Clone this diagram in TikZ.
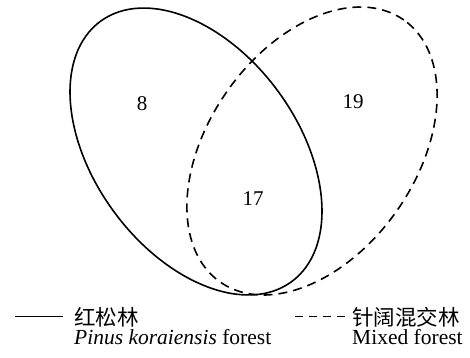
\documentclass[tikz,border=0pt]{standalone}
\usepackage{fontspec}
\setmainfont{Liberation Serif}
\newfontfamily\cjk{Noto Sans CJK SC}
\begin{document}
\begin{tikzpicture}[x=1pt,y=1pt,
  setline/.style={line width=1.6pt},
  setdash/.style={line width=1.6pt,dash pattern=on 9pt off 6pt},
  num/.style={inner sep=0pt,font=\fontsize{21}{25}\selectfont},
  legtext/.style={inner sep=0pt,anchor=west,font=\fontsize{21.5}{25}\selectfont}]
\useasboundingbox (0,0) rectangle (470,357);
\draw[setline,rotate around={-53.7:(196,205.5)}] (196,205.5) ellipse (161.5 and 101.8);
\draw[setdash,rotate around={55:(312,206)}] (312,206) ellipse (160 and 103.8);
\node[num] (n8) at (142,253) {8};
\node[num] (n19) at (353,255) {19};
\node[num] (n17) at (253,158) {17};
\coordinate (l1a) at (15,41);
\coordinate (l1b) at (63,41);
\draw[line width=1pt] (l1a) -- (l1b);
\coordinate (l2a) at (295,41);
\coordinate (l2b) at (347,41);
\draw[line width=1pt,dash pattern=on 8pt off 6pt] (l2a) -- (l2b);
\node[legtext] (t1) at (74,40) {\cjk 红松林};
\node[legtext] (t1e) at (74,20) {\textit{Pinus koraiensis} forest};
\node[legtext] (t2) at (352,40) {\cjk 针阔混交林};
\node[legtext] (t2e) at (352,20) {Mixed forest};
\end{tikzpicture}
\end{document}
